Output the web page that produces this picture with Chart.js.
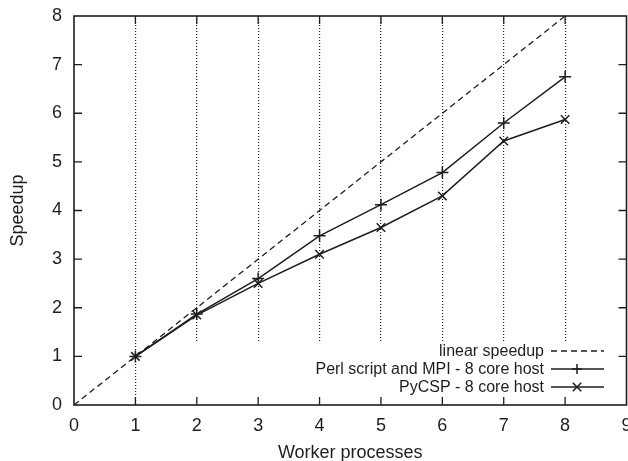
<!DOCTYPE html>
<html>
<head>
<meta charset="utf-8">
<script src="https://cdn.jsdelivr.net/npm/chart.js@4/dist/chart.umd.min.js"></script>
<style>
  body { margin: 0; background: #fff; }
  #wrap { width: 628px; height: 461px; overflow: hidden; position: relative; }
</style>
</head>
<body>
<div id="wrap"><canvas id="speedup" width="634" height="464"></canvas></div>
<script>
// Speedup per number of worker processes
const workers = [1, 2, 3, 4, 5, 6, 7, 8];
const perlMpi = [1.0, 1.87, 2.6, 3.48, 4.12, 4.78, 5.8, 6.75];
const pycsp = [1.0, 1.85, 2.5, 3.1, 3.65, 4.3, 5.43, 5.87];
const linearX = [0, 8];
const linearY = [0, 8];

const labels = ['linear speedup', 'Perl script and MPI - 8 core host', 'PyCSP - 8 core host'];
const ink = '#1e1e1e';

Chart.defaults.font.family = '"Liberation Sans", Arial, sans-serif';
Chart.defaults.font.size = 18;
Chart.defaults.color = ink;

function points(xs, ys) {
  return xs.map((x, i) => ({ x: x, y: ys[i] }));
}

// white key box, key entries, frame and inward ticks (gnuplot look)
const gnuplotLook = {
  id: 'gnuplotLook',
  beforeDatasetsDraw(chart) {
    const ctx = chart.ctx;
    const a = chart.chartArea;
    ctx.save();
    ctx.fillStyle = '#fff';
    ctx.fillRect(150, 341, a.right - 152, a.bottom - 342);
    ctx.restore();
  },
  afterDraw(chart) {
    const ctx = chart.ctx;
    const a = chart.chartArea;
    const xs = chart.scales.x;
    const ys = chart.scales.y;
    ctx.save();
    ctx.strokeStyle = ink;
    ctx.lineWidth = 1.6;
    ctx.setLineDash([]);
    ctx.strokeRect(a.left, a.top, a.right - a.left, a.bottom - a.top);

    ctx.lineWidth = 1.3;
    ctx.beginPath();
    for (let v = 1; v <= 8; v++) {
      const px = xs.getPixelForValue(v);
      ctx.moveTo(px, a.bottom); ctx.lineTo(px, a.bottom - 8);
      ctx.moveTo(px, a.top); ctx.lineTo(px, a.top + 8);
    }
    for (let v = 1; v <= 7; v++) {
      const py = ys.getPixelForValue(v);
      ctx.moveTo(a.left, py); ctx.lineTo(a.left + 8, py);
      ctx.moveTo(a.right, py); ctx.lineTo(a.right - 8, py);
    }
    ctx.stroke();

    // key
    ctx.font = '16px "Liberation Sans", Arial, sans-serif';
    ctx.textAlign = 'right';
    ctx.textBaseline = 'middle';
    ctx.fillStyle = ink;
    const rows = [351, 369, 387];
    chart.data.datasets.forEach((ds, i) => {
      const y = rows[i];
      ctx.fillText(ds.label, 544, y + 1);
      ctx.lineWidth = ds.borderWidth;
      ctx.setLineDash(ds.borderDash || []);
      ctx.beginPath();
      ctx.moveTo(551, y); ctx.lineTo(604, y);
      ctx.stroke();
      ctx.setLineDash([]);
      const r = 5;
      ctx.beginPath();
      if (ds.pointStyle === 'cross') {
        ctx.moveTo(577 - r, y); ctx.lineTo(577 + r, y);
        ctx.moveTo(577, y - r); ctx.lineTo(577, y + r);
      } else if (ds.pointStyle === 'crossRot') {
        const d = r * 0.85;
        ctx.moveTo(577 - d, y - d); ctx.lineTo(577 + d, y + d);
        ctx.moveTo(577 - d, y + d); ctx.lineTo(577 + d, y - d);
      }
      ctx.stroke();
    });
    ctx.restore();
  }
};

new Chart(document.getElementById('speedup'), {
  type: 'scatter',
  data: {
    datasets: [
      {
        label: labels[0],
        data: points(linearX, linearY),
        showLine: true,
        borderColor: ink,
        borderWidth: 1.3,
        borderDash: [6, 4],
        pointRadius: 0
      },
      {
        label: labels[1],
        data: points(workers, perlMpi),
        showLine: true,
        borderColor: ink,
        borderWidth: 1.5,
        pointStyle: 'cross',
        pointRadius: 6,
        pointBorderWidth: 1.5,
        pointBorderColor: ink
      },
      {
        label: labels[2],
        data: points(workers, pycsp),
        showLine: true,
        borderColor: ink,
        borderWidth: 1.5,
        pointStyle: 'crossRot',
        pointRadius: 6,
        pointBorderWidth: 1.5,
        pointBorderColor: ink
      }
    ]
  },
  options: {
    responsive: false,
    animation: false,
    layout: { padding: { top: 16, left: 0, right: 7, bottom: 0 } },
    plugins: { legend: { display: false }, tooltip: { enabled: false } },
    scales: {
      x: {
        type: 'linear',
        min: 0,
        max: 9,
        ticks: { stepSize: 1, padding: 10, color: ink },
        grid: {
          drawTicks: false,
          lineWidth: 1.2,
          color: (c) => (c.tick && (c.tick.value === 0 || c.tick.value === 9)) ? 'rgba(0,0,0,0)' : '#222'
        },
        border: { display: false, dash: [1, 2] },
        title: { display: true, text: 'Worker processes', color: ink, padding: { top: 0, bottom: 0 } },
        afterFit(scale) {
          scale.height = 59;
          scale.paddingLeft = 0;
          scale.paddingRight = 0;
        }
      },
      y: {
        min: 0,
        max: 8,
        ticks: { stepSize: 1, padding: 12, color: ink },
        grid: { display: false, drawTicks: false },
        border: { display: false },
        title: { display: true, text: 'Speedup', color: ink, padding: { top: 7, bottom: 0 } },
        afterFit(scale) {
          scale.width = 74;
          scale.paddingTop = 0;
          scale.paddingBottom = 0;
        }
      }
    }
  },
  plugins: [gnuplotLook]
});
</script>
</body>
</html>
